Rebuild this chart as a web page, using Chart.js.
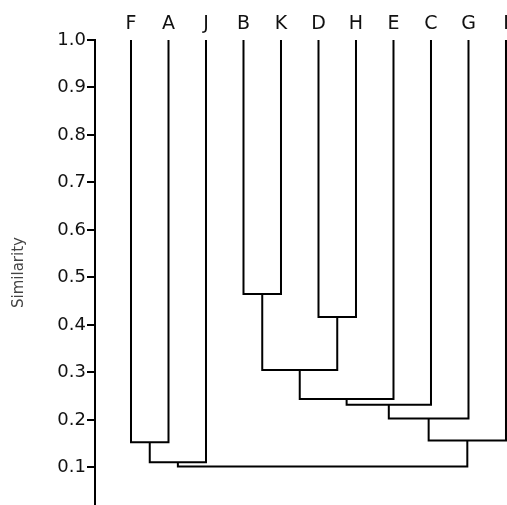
<!DOCTYPE html>
<html>
<head>
<meta charset="utf-8">
<script src="https://cdn.jsdelivr.net/npm/chart.js@4"></script>
<style>
html,body{margin:0;padding:0;background:#fff;}
#c{display:block;}
</style>
</head>
<body>
<canvas id="c" width="507" height="505"></canvas>
<script>
// Leaf labels in display order
const leaves = ['F','A','J','B','K','D','H','E','C','G','I'];
// Merge steps: clusters 0..10 are leaves, each merge creates cluster 11, 12, ...
const mergeLeft   = [0, 11, 3, 5, 13, 15, 16, 17, 18, 12];
const mergeRight  = [1,  2, 4, 6, 14,  7,  8,  9, 10, 19];
const mergeHeight = [0.153, 0.111, 0.465, 0.417, 0.305, 0.244, 0.232, 0.203, 0.157, 0.102];
// Y axis ticks
const yTicks = [0.1,0.2,0.3,0.4,0.5,0.6,0.7,0.8,0.9,1.0];
const leafHeight = 1.0;

// Build cluster positions from the tree
const posX = leaves.map((_, i) => i);
const posY = leaves.map(() => leafHeight);
const datasets = [];
for (let k = 0; k < mergeLeft.length; k++) {
  const a = mergeLeft[k], b = mergeRight[k], h = mergeHeight[k];
  datasets.push({
    data: [
      {x: posX[a], y: posY[a]},
      {x: posX[a], y: h},
      {x: posX[b], y: h},
      {x: posX[b], y: posY[b]}
    ],
    borderColor: '#000',
    borderWidth: 2,
    pointRadius: 0,
    tension: 0,
    fill: false
  });
  posX.push((posX[a] + posX[b]) / 2);
  posY.push(h);
}

new Chart(document.getElementById('c'), {
  type: 'line',
  data: { datasets },
  options: {
    responsive: false,
    animation: false,
    layout: { padding: 0 },
    plugins: { legend: { display: false }, tooltip: { enabled: false } },
    scales: {
      x: {
        type: 'linear',
        position: 'top',
        min: -0.96,
        max: 10.027,
        grid: { display: false },
        border: { display: false },
        afterBuildTicks: s => { s.ticks = leaves.map((_, i) => ({ value: i })); },
        afterFit: s => { s.height = 40; s.paddingLeft = 0; s.paddingRight = 0; },
        ticks: {
          autoSkip: false,
          maxRotation: 0,
          padding: -3,
          color: '#111',
          font: { family: 'DejaVu Sans', size: 19 },
          callback: v => leaves[v]
        }
      },
      y: {
        type: 'linear',
        min: 0.021,
        max: 1.0,
        afterBuildTicks: s => { s.ticks = yTicks.map(v => ({ value: v })); },
        afterFit: s => { s.width = 95; s.paddingTop = 0; s.paddingBottom = 0; },
        grid: {
          drawOnChartArea: false,
          drawTicks: true,
          tickLength: 8,
          color: '#000',
          lineWidth: 2
        },
        border: { display: true, color: '#000', width: 2 },
        ticks: {
          padding: 1,
          color: '#111',
          font: { family: 'DejaVu Sans', size: 18 },
          callback: v => v.toFixed(1)
        },
        title: {
          display: true,
          text: 'Similarity',
          color: '#444',
          font: { family: 'DejaVu Sans', size: 15 },
          padding: { top: 10, bottom: 0 }
        }
      }
    }
  }
});
</script>
</body>
</html>
